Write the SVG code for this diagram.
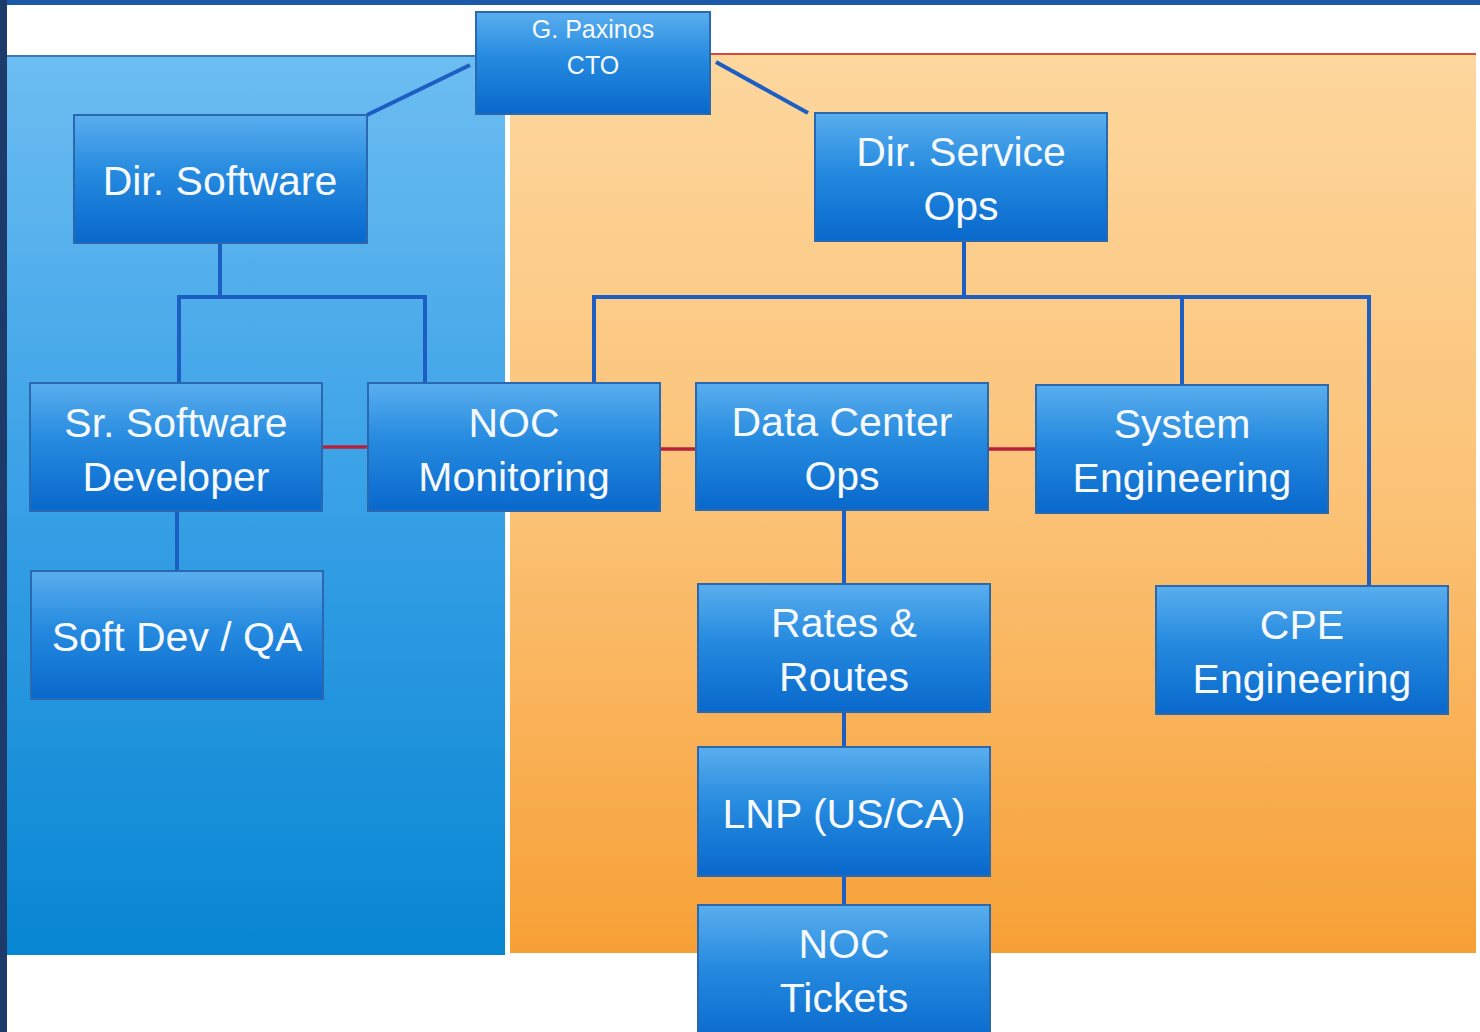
<svg xmlns="http://www.w3.org/2000/svg" width="1480" height="1032" viewBox="0 0 1480 1032">
<defs>
<linearGradient id="gBlue" x1="0" y1="0" x2="0" y2="1">
<stop offset="0" stop-color="#6cbdf1"/>
<stop offset="0.5" stop-color="#37a0e6"/>
<stop offset="1" stop-color="#0886d2"/>
</linearGradient>
<linearGradient id="gOrange" x1="0" y1="0" x2="0" y2="1">
<stop offset="0" stop-color="#fdd79e"/>
<stop offset="0.5" stop-color="#fbc276"/>
<stop offset="1" stop-color="#f7a036"/>
</linearGradient>
<linearGradient id="gBox" x1="0" y1="0" x2="0" y2="1">
<stop offset="0" stop-color="#5aaeee"/>
<stop offset="0.45" stop-color="#258adf"/>
<stop offset="1" stop-color="#0868cc"/>
</linearGradient>
<style>
.box{fill:url(#gBox);stroke:#2a68b0;stroke-width:2}
.t{font-family:"Liberation Sans",Arial,sans-serif;fill:#f6f9fd;text-anchor:middle;font-size:41px}
.ts{font-family:"Liberation Sans",Arial,sans-serif;fill:#f6f9fd;text-anchor:middle;font-size:25px}
.c{stroke:#1c5ec2;stroke-width:4;fill:none}
.r{stroke:#b8203c;stroke-width:3.5;fill:none}
</style>
</defs>
<rect x="0" y="0" width="1480" height="1032" fill="#ffffff"/>
<rect x="0" y="0" width="1480" height="5" fill="#1a5aa8"/>
<rect x="0" y="0" width="7" height="1032" fill="#1c3a6a"/>
<rect x="7" y="56" width="498" height="899" fill="url(#gBlue)"/>
<rect x="510" y="54" width="966" height="899" fill="url(#gOrange)"/>
<line x1="510" y1="54" x2="1476" y2="54" stroke="#d84a3a" stroke-width="2"/>
<line x1="7" y1="56" x2="505" y2="56" stroke="#3a78b8" stroke-width="2"/>
<g id="connectors">
<line class="c" x1="470" y1="65" x2="367" y2="115"/>
<line class="c" x1="716" y1="62" x2="808" y2="113"/>
<polyline class="c" points="220,243 220,297"/>
<polyline class="c" points="179,383 179,297 425,297 425,383"/>
<polyline class="c" points="964,241 964,297"/>
<polyline class="c" points="594,383 594,297 1369,297 1369,586"/>
<line class="c" x1="1182" y1="297" x2="1182" y2="385"/>
<line class="c" x1="177" y1="511" x2="177" y2="571"/>
<line class="c" x1="844" y1="510" x2="844" y2="584"/>
<line class="c" x1="844" y1="712" x2="844" y2="747"/>
<line class="c" x1="844" y1="876" x2="844" y2="905"/>
<line class="r" x1="322" y1="447" x2="368" y2="447"/>
<line class="r" x1="660" y1="449" x2="696" y2="449"/>
<line class="r" x1="988" y1="449" x2="1036" y2="449"/>
</g>
<g id="cto"><rect class="box" x="476" y="12" width="234" height="102"/><text class="ts" x="593" y="38">G. Paxinos</text><text class="ts" x="593" y="74">CTO</text></g>
<g id="dir-software"><rect class="box" x="74" y="115" width="293" height="128"/><text class="t" x="220" y="195">Dir. Software</text></g>
<g id="dir-service-ops"><rect class="box" x="815" y="113" width="292" height="128"/><text class="t" x="961" y="166">Dir. Service</text><text class="t" x="961" y="220">Ops</text></g>
<g id="sr-software-developer"><rect class="box" x="30" y="383" width="292" height="128"/><text class="t" x="176" y="437">Sr. Software</text><text class="t" x="176" y="491">Developer</text></g>
<g id="noc-monitoring"><rect class="box" x="368" y="383" width="292" height="128"/><text class="t" x="514" y="437">NOC</text><text class="t" x="514" y="491">Monitoring</text></g>
<g id="data-center-ops"><rect class="box" x="696" y="383" width="292" height="127"/><text class="t" x="842" y="436">Data Center</text><text class="t" x="842" y="490">Ops</text></g>
<g id="system-engineering"><rect class="box" x="1036" y="385" width="292" height="128"/><text class="t" x="1182" y="438">System</text><text class="t" x="1182" y="492">Engineering</text></g>
<g id="soft-dev-qa"><rect class="box" x="31" y="571" width="292" height="128"/><text class="t" x="177" y="651">Soft Dev / QA</text></g>
<g id="rates-routes"><rect class="box" x="698" y="584" width="292" height="128"/><text class="t" x="844" y="637">Rates &amp;</text><text class="t" x="844" y="691">Routes</text></g>
<g id="cpe-engineering"><rect class="box" x="1156" y="586" width="292" height="128"/><text class="t" x="1302" y="639">CPE</text><text class="t" x="1302" y="693">Engineering</text></g>
<g id="lnp"><rect class="box" x="698" y="747" width="292" height="129"/><text class="t" x="844" y="828">LNP (US/CA)</text></g>
<g id="noc-tickets"><rect class="box" x="698" y="905" width="292" height="140"/><text class="t" x="844" y="958">NOC</text><text class="t" x="844" y="1012">Tickets</text></g>
</svg>
